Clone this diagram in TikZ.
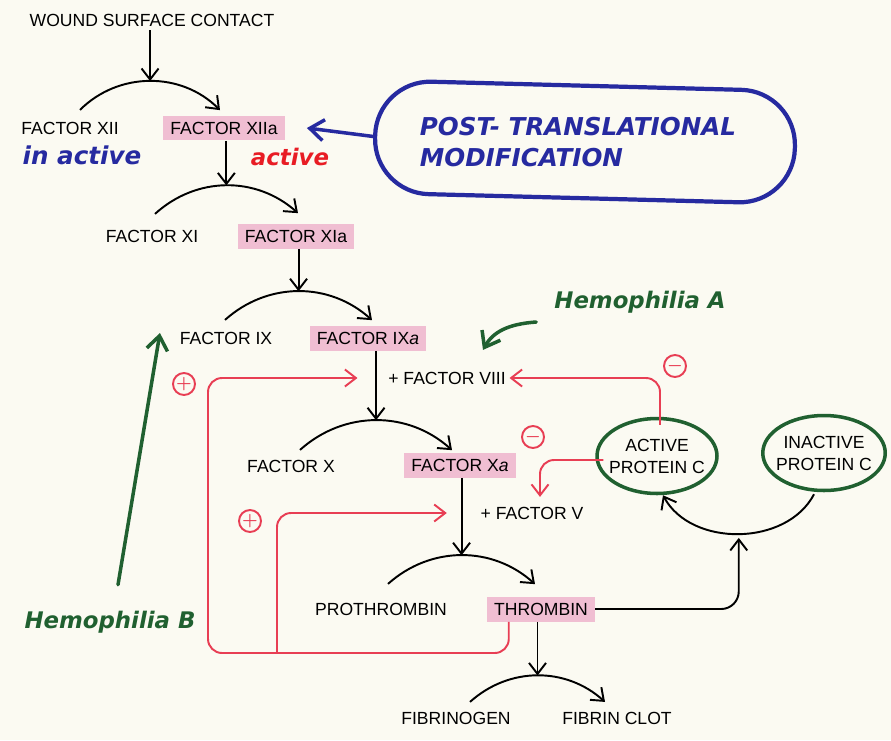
\documentclass[tikz,border=0pt]{standalone}
\usepackage{fontspec}
\setmainfont{Liberation Sans}
\newfontfamily\handfont{DejaVu Sans}
\usetikzlibrary{arrows.meta,shapes.geometric,calc}

\definecolor{paper}{RGB}{251,250,242}
\definecolor{hilite}{RGB}{240,190,210}
\definecolor{loopred}{RGB}{232,62,84}
\definecolor{penred}{RGB}{232,28,36}
\definecolor{penblue}{RGB}{38,42,160}
\definecolor{pengreen}{RGB}{32,96,48}

\tikzset{
  factor/.style={font=\fontsize{10}{12.5}\selectfont, inner sep=2pt, align=center},
  activefactor/.style={factor, fill=hilite, inner xsep=4pt, minimum height=0.5cm},
  enzyme/.style={line width=1.1pt, -{Straight Barb[length=2.2mm,width=3.4mm]}},
  feedback/.style={loopred, line width=1.1pt, rounded corners=8pt, -{Straight Barb[length=2.2mm,width=3.4mm]}},
  sign/.style={circle, draw=loopred, text=loopred, line width=1.1pt, minimum size=0.44cm, inner sep=0pt, font=\boldmath},
  hand/.style={font=\handfont\bfseries\itshape\fontsize{14}{18}\selectfont},
  pen/.style={line width=2pt, line cap=round, -{Straight Barb[length=2.8mm,width=4.2mm]}},
  ring/.style={ellipse, draw=pengreen, line width=2pt, inner sep=0pt},
}

\begin{document}
\begin{tikzpicture}[x=0.02cm, y=-0.02cm]
    \fill[paper] (0,0) rectangle (891,740);
    \useasboundingbox (0,0) rectangle (891,740);

    % Factors
    \node[factor] (wound) at (152,20) {WOUND SURFACE CONTACT};
    \node[factor] (xii) at (70,128) {FACTOR XII};
    \node[activefactor] (xiia) at (224,128) {FACTOR XIIa};
    \node[factor] (xi) at (152,236) {FACTOR XI};
    \node[activefactor] (xia) at (296,236) {FACTOR XIa};
    \node[factor] (ix) at (226,338) {FACTOR IX};
    \node[activefactor] (ixa) at (368,338) {FACTOR IX\textit{a}};
    \node[factor] (viii) at (447,378) {+ FACTOR VIII};
    \node[factor] (fx) at (291,466) {FACTOR X};
    \node[activefactor] (fxa) at (460,465) {FACTOR X\textit{a}};
    \node[factor] (fv) at (532,513) {+ FACTOR V};
    \node[factor] (pro) at (381,609) {PROTHROMBIN};
    \node[activefactor] (thr) at (541,609) {THROMBIN};
    \node[factor] (fib) at (456,718) {FIBRINOGEN};
    \node[factor] (clot) at (617,718) {FIBRIN CLOT};

    % Protein C
    \node[ring, minimum width=2.4cm, minimum height=1.5cm] (apc) at (657,456) {};
    \node[factor] at (apc) {ACTIVE\\PROTEIN C};
    \node[ring, minimum width=2.45cm, minimum height=1.5cm] (ipc) at (824,453) {};
    \node[factor] at (ipc) {INACTIVE\\PROTEIN C};

    % Activation arcs
    \draw[enzyme] ($(xii.north)+(10,-8)$) to[bend left=45] coordinate[pos=.5] (top1) ($(xiia.north)+(-4,-5)$);
    \draw[enzyme] ($(xi.north)+(3,-12)$) to[bend left=42] coordinate[pos=.5] (top2) ($(xia.north)+(2,-10)$);
    \draw[enzyme] ($(ix.north)+(-1,-8)$) to[bend left=42] coordinate[pos=.5] (top3) ($(ixa.north)+(4,-5)$);
    \draw[enzyme] ($(fx.north)+(9,-6)$) to[bend left=42] coordinate[pos=.5] (top4) ($(fxa.north)+(-8,-2)$);
    \draw[enzyme] ($(pro.north)+(7,-15)$) to[bend left=42] coordinate[pos=.5] (top5) ($(thr.north)+(-6,-12)$);
    \draw[enzyme] ($(fib.north)+(14,-6)$) to[bend left=42] coordinate[pos=.5] (top6) ($(clot.north)+(-12,-6)$);
    \draw[enzyme] ($(ipc.south)+(-10,2)$) to[bend left=62] coordinate[pos=.5] (top7) ($(apc.south)+(6,0)$);

    % Cascade steps
    \draw[enzyme] (top1 |- wound.south) -- (top1);
    \draw[enzyme] (top2 |- xiia.south) -- (top2);
    \draw[enzyme] (top3 |- xia.south) -- (top3);
    \draw[enzyme] (top4 |- ixa.south) -- (top4);
    \draw[enzyme] (top5 |- fxa.south) -- (top5);
    \draw[enzyme] (top6 |- thr.south) -- (top6);
    \draw[enzyme, rounded corners=10pt] (thr.east) -| ($(top7)+(0,4)$);

    % Feedback loops
    \coordinate (lowleft) at (208,653);
    \coordinate (branch) at (277,653);
    \draw[feedback] ($(thr.south west)+(22,0)$) |- (lowleft) |- ($(viii.west)+(-27,0)$);
    \draw[feedback] (branch) |- ($(fv.west)+(-30,0)$);
    \draw[feedback] ($(apc.north)+(3,8)$) |- (viii.east);
    \draw[feedback] ($(apc.west)+(8,4)$) -| ($(fv.north)+(8,-6)$);
    \node[sign] (plus1) at (184,384) {$+$};
    \node[sign] (plus2) at (250,521) {$+$};
    \node[sign] (minus1) at (675,366) {$-$};
    \node[sign] (minus2) at (533,437) {$-$};

    % Notes
    \node[hand, text=penblue] (inact) at (82,155) {in active};
    \node[hand, text=penred, font=\handfont\bfseries\itshape\fontsize{13}{16}\selectfont] (act) at (290,157) {active};
    \node[draw=penblue, line width=2.4pt, rounded corners=1.1cm, minimum width=8.4cm, minimum height=2.25cm, inner sep=0pt, rotate=-1.5] (ptm) at (585,142) {};
    \node[hand, text=penblue, align=left] (ptmtext) at (578,142) {POST- TRANSLATIONAL\\MODIFICATION};
    \draw[pen, penblue] (ptm.west) -- ($(xiia.east)+(22,0)$);

    \node[hand, text=pengreen, font=\handfont\bfseries\itshape\fontsize{13}{16}\selectfont] (hemA) at (640,302) {Hemophilia A};
    \node[hand, text=pengreen, font=\handfont\bfseries\itshape\fontsize{13}{16}\selectfont] (hemB) at (110,622) {Hemophilia B};
    \coordinate (hemAtail) at ($(hemA.west)+(-12,20)$);
    \coordinate (hemAtip) at ($(viii.north)+(36,-18)$);
    \draw[pen, pengreen] (hemAtail) .. controls +(-28,2) and +(10,-18) .. (hemAtip);
    \draw[pen, pengreen] ($(hemB.north)+(8,-20)$) -- ($(ix.west)+(-16,-5)$);

\end{tikzpicture}
\end{document}
